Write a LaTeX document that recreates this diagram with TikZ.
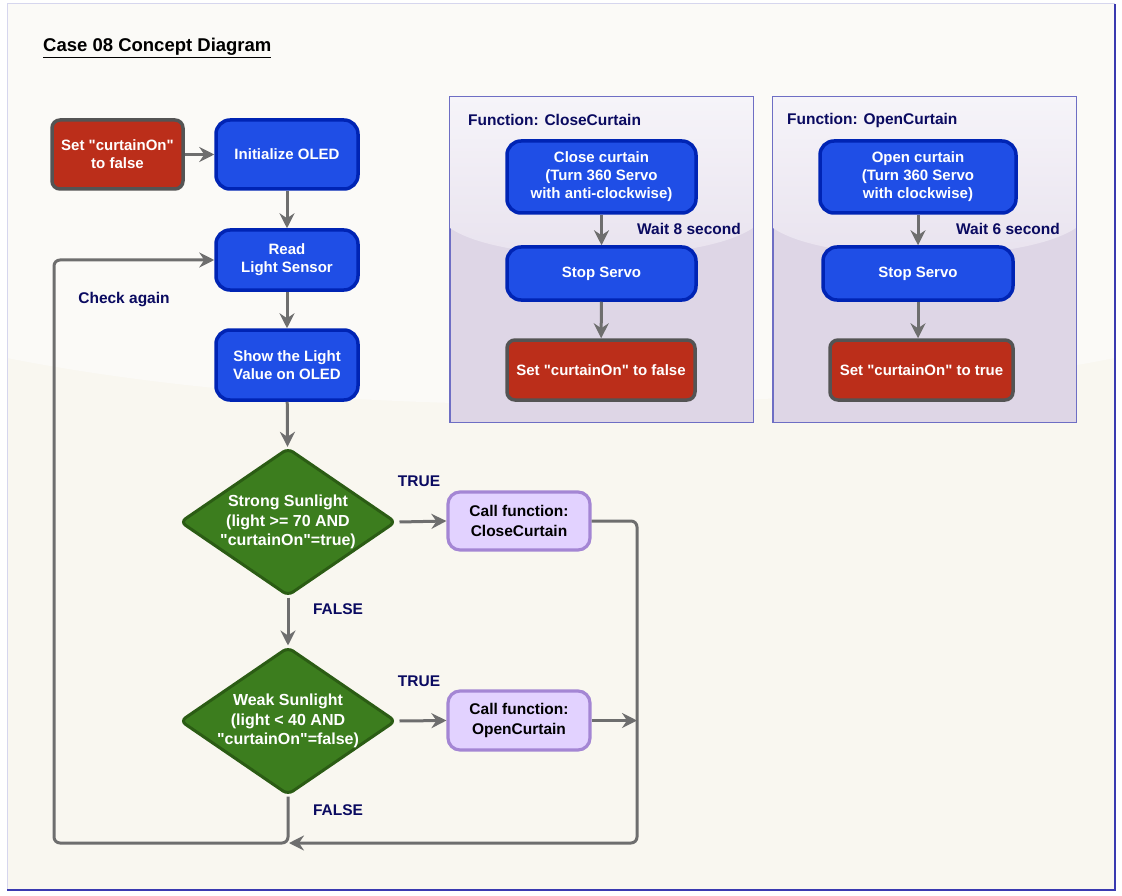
\documentclass[tikz,border=0pt]{standalone}
\usepackage{fontspec}
\setmainfont{Liberation Sans}[Ligatures=TeXOff]
\usetikzlibrary{shapes.geometric,arrows.meta}
\definecolor{bgtop}{HTML}{FBFAF7}
\definecolor{bgbot}{HTML}{F9F7F0}
\definecolor{frameL}{HTML}{D6D6EE}
\definecolor{frameD}{HTML}{3A3AB0}
\definecolor{bluefill}{HTML}{1F4EE6}
\definecolor{blueline}{HTML}{0024B4}
\definecolor{redfill}{HTML}{BB2E1A}
\definecolor{redline}{HTML}{545454}
\definecolor{greenfill}{HTML}{3C7D1E}
\definecolor{greenline}{HTML}{2B5C14}
\definecolor{purfill}{HTML}{E2D2FF}
\definecolor{purline}{HTML}{A486D4}
\definecolor{navy}{HTML}{0A0A60}
\definecolor{conncol}{HTML}{6E6E6E}
\definecolor{paneltop}{HTML}{F6F4F9}
\definecolor{panelmid}{HTML}{E8E2EE}
\definecolor{panelbot}{HTML}{DED6E6}
\definecolor{panelline}{HTML}{6E6EC4}
\tikzset{
  txt/.style={font=\bfseries\fontsize{15}{18}\selectfont, align=center},
  bluebox/.style={txt, draw=blueline, fill=bluefill, text=white, line width=3.5pt, rounded corners=14pt, inner sep=0pt},
  redbox/.style={txt, draw=redline, fill=redfill, text=white, line width=3.5pt, rounded corners=8pt, inner sep=0pt},
  purbox/.style={font=\bfseries\fontsize{15.5}{19.5}\selectfont, align=center, draw=purline, fill=purfill, text=black, line width=3.2pt, rounded corners=12pt, inner sep=0pt},
  dia/.style={diamond, draw=greenline, fill=greenfill, line width=3pt, rounded corners=6pt, inner sep=0pt, minimum width=216pt, minimum height=148pt},
  diatext/.style={font=\bfseries\fontsize{16}{19.5}\selectfont, align=center, text=white, inner sep=0pt},
  lbl/.style={font=\bfseries\fontsize{15.5}{18}\selectfont, text=navy, inner sep=0pt},
  conn/.style={draw=conncol, line width=3pt, rounded corners=6pt, -{Stealth[length=15pt,width=15pt,inset=5pt]}},
  panel/.style={draw=panelline, line width=1pt, fill=panelbot, minimum width=303pt, minimum height=325pt, inner sep=0pt},
}
\begin{document}
\begin{tikzpicture}[x=1pt,y=-1pt]
\useasboundingbox (0,0) rectangle (1122,896);
% background frame
\fill[bgbot] (7,4) rectangle (1115,890);
\fill[bgtop] (7,4) -- (1115,4) -- (1115,358) .. controls (800,420) and (320,420) .. (7,358) -- cycle;
\draw[frameL, line width=1pt] (7,890) -- (7,4) -- (1115,4);
\draw[frameD, line width=1.5pt] (7,890) -- (1115,890) -- (1115,4);

% title
\node[anchor=west, font=\bfseries\fontsize{18.5}{22}\selectfont, inner sep=0pt] (title) at (43,48) {\underline{Case 08 Concept Diagram}};

% main flow
\node[redbox, minimum width=131pt, minimum height=69pt] (init) at (117.5,154.5) {Set "curtainOn"\\to false};
\node[bluebox, minimum width=142pt, minimum height=69pt] (oled) at (287,154.5) {Initialize OLED};
\node[bluebox, minimum width=142pt, minimum height=60pt] (read) at (287,260) {Read\\Light Sensor};
\node[bluebox, minimum width=142pt, minimum height=70pt] (show) at (287,365) {Show the Light\\Value on OLED};
\node[dia] (d1) at (288,522) {};
\node[diatext] (d1t) at (d1.center) {Strong Sunlight\\(light >= 70 AND\\"curtainOn"=true)};
\node[dia] (d2) at (288,721) {};
\node[diatext] (d2t) at (d2.center) {Weak Sunlight\\(light < 40 AND\\"curtainOn"=false)};
\node[purbox, minimum width=142pt, minimum height=58pt] (call1) at (519,521) {Call function:\\CloseCurtain};
\node[purbox, minimum width=142pt, minimum height=59pt] (call2) at (519,720.5) {Call function:\\OpenCurtain};

\coordinate (lb) at (54,843);
\coordinate (rb) at (637,843);
\coordinate (rm) at (637,720.5);
\coordinate (merge) at (289,843);

\draw[conn] (init) -- (oled);
\draw[conn] (oled) -- (read);
\draw[conn] (read) -- (show);
\draw[conn] (show) -- (d1);
\draw[conn] (d1) -- (d2);
\draw[conn] (d1.east) ++(2,0) -- (call1.west);
\draw[conn] (d2.east) ++(2,0) -- (call2.west);
\draw[conn] (d2.south) |- (lb) |- (read.west);
\draw[conn] (call1.east) -| (rb) -- (merge);
\draw[conn] (call2.east) -- (rm);

\node[lbl] (ca) at (124,300) {Check again};
\node[lbl] (t1) at (419,481) {TRUE};
\node[lbl] (f1) at (338,609) {FALSE};
\node[lbl] (t2) at (419,681) {TRUE};
\node[lbl] (f2) at (338,810) {FALSE};

% function panels
\node[panel] (p1) at (601.5,259.5) {};
\node[panel] (p2) at (924.5,259.5) {};
\shade[top color=paneltop, bottom color=panelmid] (p1.north west) -- (p1.north east) -- ++(0,131) .. controls (700,265) and (503,265) .. (450,228) -- cycle;
\shade[top color=paneltop, bottom color=panelmid] (p2.north west) -- (p2.north east) -- ++(0,131) .. controls (1023,265) and (826,265) .. (773,228) -- cycle;
\draw[panelline, line width=1pt] (p1.north west) rectangle (p1.south east);
\draw[panelline, line width=1pt] (p2.north west) rectangle (p2.south east);
\node[lbl, anchor=west] (p1t) at (468,120) {Function: CloseCurtain};
\node[lbl, anchor=west] (p2t) at (787,120) {Function: OpenCurtain};

\node[bluebox, minimum width=189pt, minimum height=72pt] (cc) at (601.5,177) {Close curtain\\(Turn 360 Servo\\with anti-clockwise)};
\node[bluebox, minimum width=189pt, minimum height=53pt] (s1) at (601.5,273.5) {Stop Servo};
\node[redbox, minimum width=188pt, minimum height=60pt] (r1) at (601,370) {Set "curtainOn" to false};
\draw[conn] (cc) -- (s1);
\draw[conn] (s1) -- (r1);
\node[lbl] (w1) at (689,229) {Wait 8 second};

\node[bluebox, minimum width=196pt, minimum height=72pt] (oc) at (918,177) {Open curtain\\(Turn 360 Servo\\with clockwise)};
\node[bluebox, minimum width=190pt, minimum height=53pt] (s2) at (918,273.5) {Stop Servo};
\node[redbox, minimum width=183pt, minimum height=60pt] (r2) at (921.5,370) {Set "curtainOn" to true};
\draw[conn] (oc) -- (s2);
\draw[conn] (s2.south) -- (s2.south |- r2.north);
\node[lbl] (w2) at (1008,229) {Wait 6 second};
\end{tikzpicture}
\end{document}
